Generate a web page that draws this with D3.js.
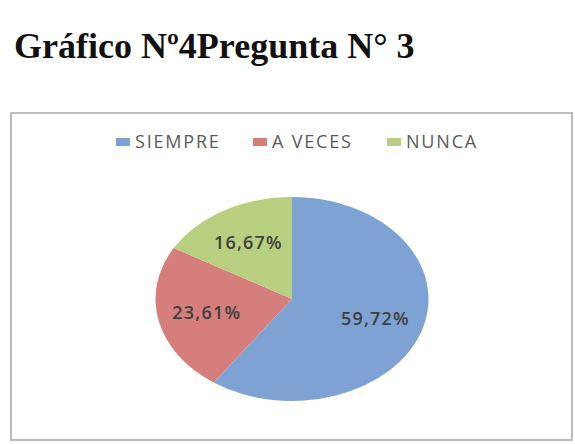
<!DOCTYPE html>
<html>
<head>
<meta charset="utf-8">
<script src="https://cdn.jsdelivr.net/npm/d3@7"></script>
<style>
  body { margin: 0; background: #fff; }
</style>
</head>
<body>
<div id="chart"></div>
<script>
"use strict";

var categories = ["SIEMPRE", "A VECES", "NUNCA"];
var values = [59.72, 23.61, 16.67];
var labels = ["59,72%", "23,61%", "16,67%"];
var colors = ["#7fa2d5", "#d67e7c", "#b8cf80"];

var width = 575, height = 444;

var svg = d3.select("#chart")
    .append("svg")
    .attr("width", width)
    .attr("height", height);

// title
svg.append("text")
    .text("Gráfico Nº4Pregunta N° 3")
    .attr("x", 14)
    .attr("y", 58)
    .attr("font-family", "'Liberation Serif', 'Times New Roman', serif")
    .attr("font-weight", "bold")
    .attr("font-size", "36px")
    .attr("fill", "#111");

// chart frame
svg.append("rect")
    .attr("x", 11)
    .attr("y", 113)
    .attr("width", 561)
    .attr("height", 327)
    .attr("fill", "#fff")
    .attr("stroke", "#bcbcbc")
    .attr("stroke-width", 2);

// legend
var legendX = [116, 253, 387];
var legend = svg.selectAll("g.legend")
    .data(categories)
    .enter()
    .append("g")
    .attr("class", "legend")
    .attr("transform", function (d, i) {
        return "translate(" + legendX[i] + ",142)";
    });

legend.append("rect")
    .attr("x", 0)
    .attr("y", -4)
    .attr("width", 14)
    .attr("height", 8)
    .attr("fill", function (d, i) { return colors[i]; });

legend.append("text")
    .text(function (d) { return d; })
    .attr("x", 19)
    .attr("y", 6)
    .attr("font-family", "'Open Sans', 'DejaVu Sans', sans-serif")
    .attr("font-size", "18px")
    .attr("letter-spacing", "1.8px")
    .attr("fill", "#5a5a5a");

// pie (drawn as ellipse by scaling a circle)
var cx = 292, cy = 299, rx = 136.5, ry = 102;

var pie = d3.pie().sort(null).value(function (d) { return d; });
var arcs = pie(values);

var arc = d3.arc().innerRadius(0).outerRadius(ry);
var labelArc = d3.arc().innerRadius(ry * 0.64).outerRadius(ry * 0.64);

var g = svg.append("g")
    .attr("transform", "translate(" + cx + "," + cy + ")");

g.append("g")
    .attr("transform", "scale(" + (rx / ry) + ",1)")
    .selectAll("path")
    .data(arcs)
    .enter()
    .append("path")
    .attr("d", arc)
    .attr("fill", function (d, i) { return colors[i]; })
    .attr("stroke", "none");

g.selectAll("text")
    .data(arcs)
    .enter()
    .append("text")
    .text(function (d, i) { return labels[i]; })
    .attr("x", function (d) { return labelArc.centroid(d)[0] * (rx / ry); })
    .attr("y", function (d) { return labelArc.centroid(d)[1]; })
    .attr("dy", "0.35em")
    .attr("text-anchor", "middle")
    .attr("font-family", "'Open Sans', 'DejaVu Sans', sans-serif")
    .attr("font-size", "18px")
    .attr("font-weight", "600")
    .attr("letter-spacing", "1.2px")
    .attr("fill", "#404040");
</script>
</body>
</html>
